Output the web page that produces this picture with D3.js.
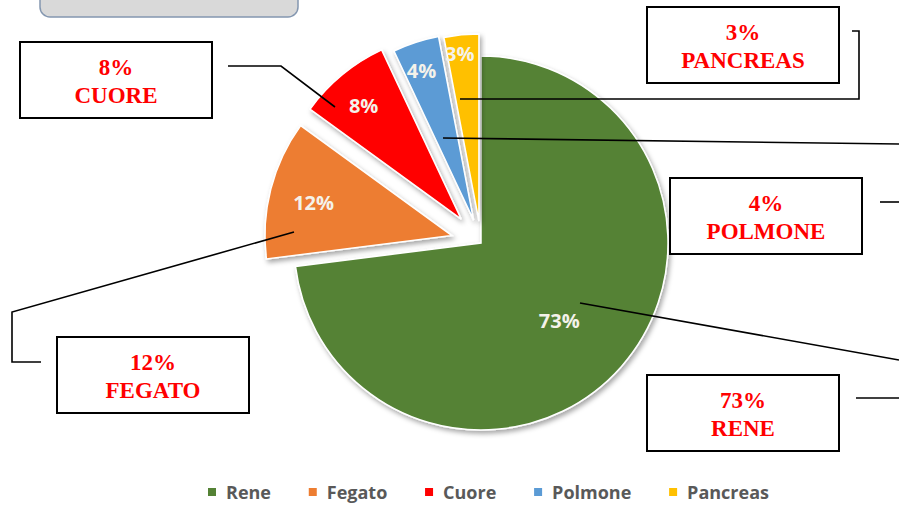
<!DOCTYPE html>
<html>
<head>
<meta charset="utf-8">
<script src="https://cdn.jsdelivr.net/npm/d3@7"></script>
<style>
  body { margin: 0; background: #fff; }
  svg { display: block; }
</style>
</head>
<body>
<svg id="chart"></svg>
<script>
// dati
let categories = ['Rene', 'Fegato', 'Cuore', 'Polmone', 'Pancreas'];
let values = [73, 12, 8, 4, 3];
let colors = ['#548235', '#ED7D31', '#FF0000', '#5B9BD5', '#FFC000'];
let boxNames = ['RENE', 'FEGATO', 'CUORE', 'POLMONE', 'PANCREAS'];

let width = 899;
let height = 506;

function main() {
    let svg = d3.select('#chart')
        .attr('width', width)
        .attr('height', height);

    let defs = svg.append('defs');
    defs.append('filter')
        .attr('id', 'shadow')
        .attr('x', '-20%').attr('y', '-20%')
        .attr('width', '140%').attr('height', '140%')
        .append('feDropShadow')
        .attr('dx', 2).attr('dy', 3)
        .attr('stdDeviation', 2.5)
        .attr('flood-color', '#000')
        .attr('flood-opacity', 0.35);

    // riquadro grigio in alto a sinistra (tagliato)
    svg.append('rect')
        .attr('x', 40).attr('y', -20)
        .attr('width', 258).attr('height', 37)
        .attr('rx', 10)
        .attr('fill', '#d9d9d9')
        .attr('stroke', '#8497b0')
        .attr('stroke-width', 1.5);

    let cx = 481, cy = 243, r = 187;
    let explode = [0, 30, 31, 24, 22];
    let labelR = [0.59, 0.76, 0.8, 0.85, 0.9];

    let pie = d3.pie().sort(null).value(d => d)(values);
    let arc = d3.arc().innerRadius(0).outerRadius(r);

    let g = svg.append('g').attr('transform', `translate(${cx},${cy})`);

    let slices = g.selectAll('g.slice')
        .data(pie)
        .join('g')
        .attr('class', 'slice')
        .attr('transform', (d, i) => {
            let a = (d.startAngle + d.endAngle) / 2;
            return `translate(${Math.sin(a) * explode[i]},${-Math.cos(a) * explode[i]})`;
        });

    slices.append('path')
        .attr('d', arc)
        .attr('fill', (d, i) => colors[i])
        .attr('stroke', '#fff')
        .attr('stroke-width', 1.5)
        .attr('filter', 'url(#shadow)');

    slices.append('text')
        .attr('x', (d, i) => Math.sin((d.startAngle + d.endAngle) / 2 + (i === 0 ? 0.06 : -0.02)) * r * labelR[i])
        .attr('y', (d, i) => -Math.cos((d.startAngle + d.endAngle) / 2 + (i === 0 ? 0.06 : -0.02)) * r * labelR[i])
        .attr('text-anchor', 'middle')
        .attr('dominant-baseline', 'central')
        .style('font-family', '"Open Sans", sans-serif')
        .style('font-weight', 'bold')
        .style('font-size', '20px')
        .attr('fill', '#f4f2ea')
        .text(d => d.value + '%');

    // linee dei richiami
    let leaders = [
        [[580, 303], [899, 360]],
        [[294, 232], [12, 312], [12, 362], [41, 362]],
        [[335, 107], [281, 66], [228, 66]],
        [[443, 138], [899, 144]],
        [[460, 99], [859, 99], [859, 31], [852, 31]],
        [[856, 398], [899, 398]],
        [[880, 202], [899, 202]]
    ];
    svg.selectAll('path.leader')
        .data(leaders)
        .join('path')
        .attr('class', 'leader')
        .attr('d', d3.line())
        .attr('fill', 'none')
        .attr('stroke', '#000')
        .attr('stroke-width', 1.6);

    // riquadri con testo
    let boxes = [
        {x: 647, y: 375},
        {x: 57, y: 337},
        {x: 20, y: 42},
        {x: 670, y: 178},
        {x: 647, y: 7}
    ];
    let bw = 192, bh = 76;
    let bg = svg.selectAll('g.box')
        .data(boxes)
        .join('g')
        .attr('class', 'box')
        .attr('transform', d => `translate(${d.x},${d.y})`);
    bg.append('rect')
        .attr('width', bw).attr('height', bh)
        .attr('fill', '#fff')
        .attr('stroke', '#000')
        .attr('stroke-width', 2);
    let bt = bg.append('text')
        .attr('text-anchor', 'middle')
        .style('font-family', '"Liberation Serif", "Times New Roman", serif')
        .style('font-weight', 'bold')
        .style('font-size', '23px')
        .attr('fill', '#FF0000');
    bt.append('tspan').attr('x', bw / 2).attr('y', 33).text((d, i) => values[i] + '%');
    bt.append('tspan').attr('x', bw / 2).attr('y', 61).text((d, i) => boxNames[i]);

    // legenda
    let leg = svg.append('g').attr('transform', `translate(0,492)`);
    let items = leg.selectAll('g')
        .data(categories)
        .join('g');
    items.append('rect')
        .attr('y', -4).attr('width', 8).attr('height', 8)
        .attr('fill', (d, i) => colors[i]);
    items.append('text')
        .attr('x', 18)
        .attr('dominant-baseline', 'central')
        .style('font-family', '"Open Sans", sans-serif')
        .style('font-weight', 'bold')
        .style('font-size', '18px')
        .attr('fill', '#595959')
        .text(d => d);
    let widths = [];
    items.each(function () {
        widths.push(18 + this.querySelector('text').getComputedTextLength());
    });
    let legStart = 208, legEnd = 769;
    let gap = (legEnd - legStart - d3.sum(widths)) / (widths.length - 1);
    let pos = [], x = legStart;
    widths.forEach(w => { pos.push(x); x += w + gap; });
    items.attr('transform', (d, i) => `translate(${pos[i]},0)`);
}
main();
</script>
</body>
</html>
